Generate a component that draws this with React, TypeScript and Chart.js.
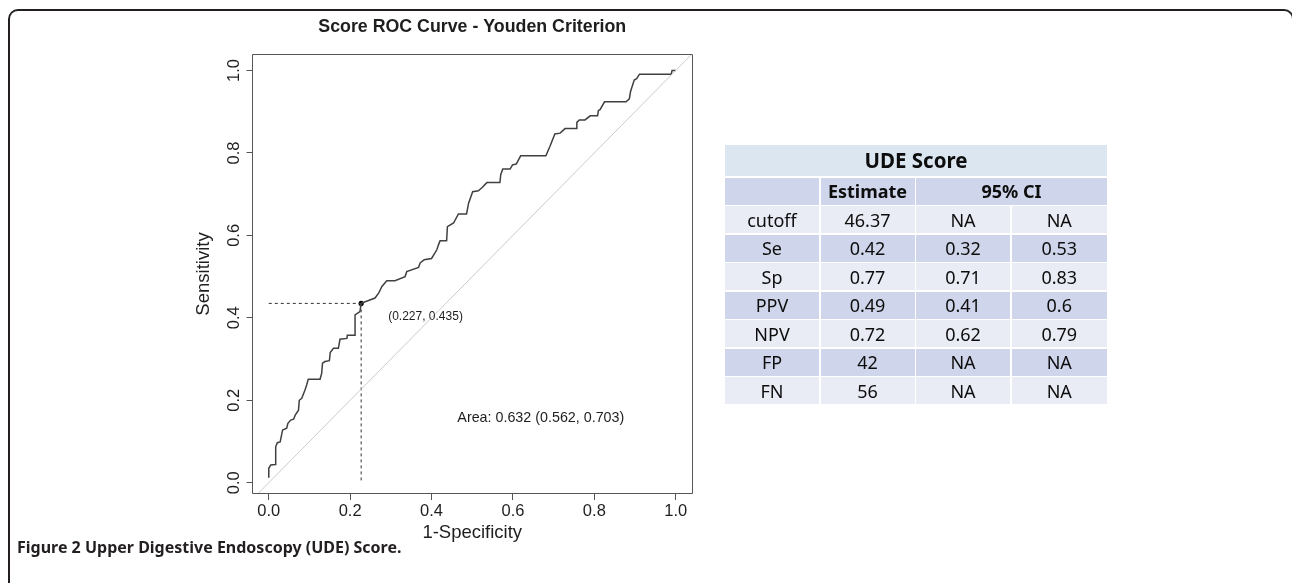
import React, { useEffect, useRef } from "react";
import { Chart, registerables } from "chart.js";

Chart.register(...registerables);

// ---- ROC curve data (1 - specificity, sensitivity) ----
const fpr = [
  0, 0, 0.005, 0.016, 0.017, 0.021, 0.028, 0.034, 0.044, 0.047, 0.054, 0.061, 0.065, 0.073, 0.075,
  0.081, 0.089, 0.093, 0.097, 0.126, 0.13, 0.132, 0.138, 0.149, 0.151, 0.159, 0.171, 0.175, 0.192,
  0.193, 0.212, 0.212, 0.224, 0.227, 0.261, 0.27, 0.278, 0.29, 0.31, 0.335, 0.339, 0.368, 0.372,
  0.382, 0.4, 0.413, 0.417, 0.421, 0.437, 0.439, 0.454, 0.466, 0.486, 0.491, 0.501, 0.515, 0.523,
  0.536, 0.568, 0.57, 0.575, 0.593, 0.599, 0.608, 0.619, 0.681, 0.691, 0.703, 0.716, 0.728, 0.755,
  0.757, 0.763, 0.777, 0.79, 0.808, 0.81, 0.814, 0.825, 0.878, 0.886, 0.889, 0.898, 0.904, 0.911,
  0.989, 0.991, 1.0,
];
const tpr = [
  0.012, 0.035, 0.043, 0.044, 0.087, 0.097, 0.099, 0.128, 0.132, 0.144, 0.152, 0.154, 0.164, 0.176, 0.2,
  0.205, 0.225, 0.237, 0.251, 0.251, 0.265, 0.29, 0.294, 0.296, 0.316, 0.326, 0.326, 0.348, 0.35,
  0.358, 0.358, 0.407, 0.415, 0.435, 0.448, 0.46, 0.476, 0.49, 0.49, 0.5, 0.512, 0.522, 0.533,
  0.541, 0.544, 0.565, 0.577, 0.587, 0.587, 0.621, 0.63, 0.652, 0.652, 0.678, 0.706, 0.708, 0.715,
  0.728, 0.728, 0.747, 0.761, 0.761, 0.771, 0.773, 0.793, 0.793, 0.816, 0.846, 0.848, 0.859, 0.859,
  0.874, 0.88, 0.88, 0.89, 0.89, 0.903, 0.905, 0.924, 0.924, 0.931, 0.949, 0.977, 0.98, 0.991,
  0.991, 1.0, 1.0,
];
const diagonalX = [-0.1, 1.1];
const diagonalY = [-0.1, 1.1];
const cutoffFpr = 0.227;
const cutoffTpr = 0.435;
const cutoffLabel = "(0.227, 0.435)";
const aucLabel = "Area: 0.632 (0.562, 0.703)";
const aucPos = [0.4634, 0.156];
const tickValues = [0, 0.2, 0.4, 0.6, 0.8, 1.0];
const tickLabels = ["0.0", "0.2", "0.4", "0.6", "0.8", "1.0"];
const chartTitle = "Score ROC Curve - Youden Criterion";
const xTitle = "1-Specificity";
const yTitle = "Sensitivity";

// ---- Table data ----
const tableTitle = "UDE Score";
const headerEstimate = "Estimate";
const headerCI = "95% CI";
const rowLabels = ["cutoff", "Se", "Sp", "PPV", "NPV", "FP", "FN"];
const estimates = ["46.37", "0.42", "0.77", "0.49", "0.72", "42", "56"];
const ciLower = ["NA", "0.32", "0.71", "0.41", "0.62", "NA", "NA"];
const ciUpper = ["NA", "0.53", "0.83", "0.6", "0.79", "NA", "NA"];

const captionBold = "Figure 2";
const captionText = " Upper Digestive Endoscopy (UDE) Score.";

const FONT = "'Liberation Sans', Arial, sans-serif";

const overlayPlugin = {
  id: "overlay",
  afterDraw(chart: any) {
    const { ctx, chartArea } = chart;
    const xs = chart.scales.x;
    const ys = chart.scales.y;
    ctx.save();
    // box
    const x0 = Math.floor(chartArea.left) + 0.5;
    const x1 = Math.floor(chartArea.right) + 0.5;
    const y0 = Math.floor(chartArea.top) + 0.5;
    const y1 = Math.floor(chartArea.bottom) - 0.5;
    ctx.strokeStyle = "#555";
    ctx.lineWidth = 1;
    ctx.beginPath();
    ctx.rect(x0, y0, x1 - x0, y1 - y0);
    ctx.stroke();

    ctx.fillStyle = "#1e1e1e";
    // y tick labels (rotated, R style)
    ctx.font = `16.5px ${FONT}`;
    ctx.textAlign = "center";
    ctx.textBaseline = "middle";
    tickValues.forEach((v, i) => {
      const py = ys.getPixelForValue(v);
      ctx.save();
      ctx.translate(chartArea.left - 18.5, py);
      ctx.rotate(-Math.PI / 2);
      ctx.fillText(tickLabels[i], 0, 0);
      ctx.restore();
    });
    // y title
    ctx.font = `18.5px ${FONT}`;
    ctx.save();
    ctx.translate(chartArea.left - 49, (chartArea.top + chartArea.bottom) / 2);
    ctx.rotate(-Math.PI / 2);
    ctx.fillText(yTitle, 0, 0);
    ctx.restore();

    // main title
    ctx.font = `bold 17.8px ${FONT}`;
    ctx.fillText(chartTitle, (chartArea.left + chartArea.right) / 2, chartArea.top - 27);

    // cutoff label
    ctx.font = `12px ${FONT}`;
    ctx.textAlign = "left";
    ctx.fillText(
      cutoffLabel,
      xs.getPixelForValue(cutoffFpr) + 27,
      ys.getPixelForValue(cutoffTpr) + 13
    );
    // AUC label
    ctx.font = `14.3px ${FONT}`;
    ctx.fillText(aucLabel, xs.getPixelForValue(aucPos[0]), ys.getPixelForValue(aucPos[1]));
    ctx.restore();
  },
};

function App() {
  const ref = useRef<HTMLCanvasElement>(null);

  useEffect(() => {
    if (!ref.current) return;
    const axisCommon = {
      type: "linear" as const,
      grid: {
        drawOnChartArea: false,
        drawTicks: true,
        tickLength: 6,
        tickColor: "#555",
        tickWidth: 1,
      },
      border: { display: false },
    };
    const chart = new Chart(ref.current, {
      type: "scatter",
      data: {
        datasets: [
          {
            data: diagonalX.map((x, i) => ({ x, y: diagonalY[i] })),
            showLine: true,
            borderColor: "#cccccc",
            borderWidth: 1,
            pointRadius: 0,
          },
          {
            data: fpr.map((x, i) => ({ x, y: tpr[i] })),
            showLine: true,
            borderColor: "#404040",
            borderWidth: 1.5,
            pointRadius: 0,
          },
          {
            data: [
              { x: 0, y: cutoffTpr },
              { x: cutoffFpr, y: cutoffTpr },
            ],
            showLine: true,
            borderColor: "#333",
            borderWidth: 1,
            borderDash: [3, 3],
            pointRadius: 0,
          },
          {
            data: [
              { x: cutoffFpr, y: cutoffTpr },
              { x: cutoffFpr, y: 0 },
            ],
            showLine: true,
            borderColor: "#333",
            borderWidth: 1,
            borderDash: [3, 3],
            pointRadius: 0,
          },
          {
            data: [{ x: cutoffFpr, y: cutoffTpr }],
            showLine: false,
            pointRadius: 2.6,
            pointBackgroundColor: "#000",
            pointBorderColor: "#000",
            pointBorderWidth: 0,
          },
        ],
      },
      options: {
        responsive: false,
        animation: false,
        devicePixelRatio: 1,
        events: [],
        layout: { padding: { left: 192.5, right: 600, top: 54, bottom: 29 } },
        plugins: {
          legend: { display: false },
          tooltip: { enabled: false },
          title: { display: false },
        },
        scales: {
          x: {
            ...axisCommon,
            position: "bottom",
            min: -0.04,
            max: 1.04,
            afterBuildTicks: (s: any) => {
              s.ticks = tickValues.map((v) => ({ value: v }));
            },
            afterFit: (s: any) => {
              s.height = 60;
            },
            ticks: {
              autoSkip: false,
              maxRotation: 0,
              minRotation: 0,
              padding: 2,
              color: "#1e1e1e",
              font: { family: FONT, size: 16.5 },
              callback: (_v: any, i: number) => tickLabels[i],
            },
            title: {
              display: true,
              text: xTitle,
              color: "#1e1e1e",
              font: { family: FONT, size: 18.5 },
              padding: { top: 0, bottom: 10 },
            },
          },
          y: {
            ...axisCommon,
            position: "left",
            min: -0.0274,
            max: 1.04,
            afterBuildTicks: (s: any) => {
              s.ticks = tickValues.map((v) => ({ value: v }));
            },
            afterFit: (s: any) => {
              s.width = 60;
            },
            ticks: { display: false },
          },
        },
      },
      plugins: [overlayPlugin],
    } as any);
    return () => chart.destroy();
  }, []);

  const cell = (bg: string, extra: React.CSSProperties = {}): React.CSSProperties => ({
    background: bg,
    display: "flex",
    alignItems: "center",
    justifyContent: "center",
    ...extra,
  });
  const light = "#e9ebf5";
  const dark = "#cfd5ea";

  return (
    <div
      style={{
        position: "fixed",
        left: 0,
        top: 0,
        width: 1292,
        height: 583,
        overflow: "hidden",
        background: "#fff",
      }}
    >
      <canvas
        ref={ref}
        width={1292}
        height={583}
        style={{ position: "absolute", left: 0, top: 0, width: 1292, height: 583 }}
      />
      <div
        style={{
          position: "absolute",
          left: 8,
          top: 9,
          width: 1286,
          height: 700,
          boxSizing: "border-box",
          borderTop: "2px solid #231f20",
          borderLeft: "2px solid #231f20",
          borderRight: "2px solid #231f20",
          borderRadius: "10px 10px 0 0",
        }}
      />
      <div
        style={{
          position: "absolute",
          left: 725,
          top: 145,
          display: "grid",
          gridTemplateColumns: "94px 94px 94px 95.5px",
          gridTemplateRows: "31px repeat(8, 27px)",
          gap: "1.5px",
          fontFamily: "'Noto Sans', sans-serif",
          fontSize: 18,
          color: "#0d0d0d",
          lineHeight: 1,
        }}
      >
        <div style={cell("#dce6f1", { gridColumn: "1 / span 4", fontWeight: 700, fontSize: 20.5 })}>
          {tableTitle}
        </div>
        <div style={cell(dark)} />
        <div style={cell(dark, { fontWeight: 700 })}>{headerEstimate}</div>
        <div style={cell(dark, { gridColumn: "3 / span 2", fontWeight: 700 })}>{headerCI}</div>
        {rowLabels.map((lab, i) => {
          const bg = i % 2 === 0 ? light : dark;
          return (
            <React.Fragment key={lab}>
              <div style={cell(bg)}>{lab}</div>
              <div style={cell(bg)}>{estimates[i]}</div>
              <div style={cell(bg)}>{ciLower[i]}</div>
              <div style={cell(bg)}>{ciUpper[i]}</div>
            </React.Fragment>
          );
        })}
      </div>
      <div
        style={{
          position: "absolute",
          left: 17,
          top: 536,
          lineHeight: "22px",
          whiteSpace: "nowrap",
          fontFamily: "'Noto Sans', sans-serif",
          fontWeight: 700,
          fontSize: 16,
          color: "#231f20",
        }}
      >
        <span>{captionBold}</span>
        <span>{captionText}</span>
      </div>
    </div>
  );
}

export default App;
